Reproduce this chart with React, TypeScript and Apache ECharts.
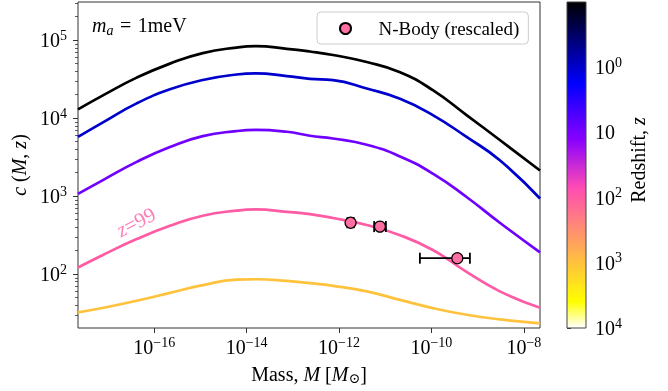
import React, { useEffect, useRef } from "react";
import * as echarts from "echarts";

// ---------- data (log10 values) ----------
const log10Mass = [-17.65, -17.1, -16.38, -15.66, -14.95, -14.22, -13.8, -13.13, -12.63, -12.13, -11.4, -10.68, -9.97, -9.24, -8.52, -7.65];
const redshifts = [0.1, 1, 9, 99, 999];
const log10C_z0 = [4.113, 4.296, 4.52, 4.7, 4.835, 4.906, 4.923, 4.89, 4.855, 4.81, 4.72, 4.59, 4.36, 4.04, 3.72, 3.33];
const log10C_z1 = [3.76, 3.95, 4.19, 4.37, 4.49, 4.56, 4.574, 4.54, 4.505, 4.488, 4.38, 4.25, 4.04, 3.76, 3.46, 2.97];
const log10C_z9 = [3.03, 3.21, 3.44, 3.63, 3.77, 3.835, 3.85, 3.826, 3.775, 3.74, 3.66, 3.51, 3.29, 2.99, 2.66, 2.28];
const log10C_z99 = [2.085, 2.25, 2.45, 2.62, 2.75, 2.815, 2.83, 2.8, 2.77, 2.72, 2.63, 2.5, 2.31, 2.03, 1.78, 1.57];
const log10C_z999 = [1.51, 1.57, 1.66, 1.76, 1.86, 1.93, 1.935, 1.914, 1.885, 1.85, 1.78, 1.67, 1.565, 1.48, 1.42, 1.37];
const curveValues = [log10C_z0, log10C_z1, log10C_z9, log10C_z99, log10C_z999];

const nbodyLog10Mass = [-11.75, -11.115, -9.44];
const nbodyLog10C = [2.66, 2.61, 2.205];
const nbodyLog10MassLow = [-11.82, -11.24, -10.25];
const nbodyLog10MassHigh = [-11.68, -10.985, -9.167];

const xTicks = [-16, -14, -12, -10, -8];
const yTicks = [2, 3, 4, 5];
const cbarTicks = [0, 1, 2, 3, 4];

// ---------- helpers ----------
const FONT = "'Liberation Serif', 'Times New Roman', 'DejaVu Serif', serif";
const clip = (v: number) => Math.max(0, Math.min(1, v));
function gnuplot2(t: number): string {
  const r = clip(t / 0.32 - 0.78125);
  const g = clip(2 * t - 0.84);
  const b = clip(t < 0.25 ? 4 * t : t < 0.42 ? 1 : t < 0.92 ? -2 * t + 1.84 : t / 0.08 - 11.5);
  return `rgb(${Math.round(r * 255)},${Math.round(g * 255)},${Math.round(b * 255)})`;
}
const zToT = (z: number) => (Math.log10(z) + 1) / 5;

const supRich = {
  b: { fontSize: 20, fontFamily: FONT, color: "#000", lineHeight: 24 },
  s: { fontSize: 14, fontFamily: FONT, color: "#000", lineHeight: 8, verticalAlign: "top" },
};
const powLabel = (v: number) => `{b|10}{s|${v < 0 ? "\u2212" : ""}${Math.abs(v)}}`;

export default function App() {
  const ref = useRef<HTMLDivElement>(null);
  useEffect(() => {
    if (!ref.current) return;
    const chart = echarts.init(ref.current, null, { renderer: "svg" });

    const minorTicks: number[] = [];
    for (let n = 1; n <= 5; n++) for (let k = 2; k <= 9; k++) {
      const v = Math.log10(k * Math.pow(10, n));
      if (v > 1.31 && v < 5.49) minorTicks.push(v);
    }
    const stops = [] as { offset: number; color: string }[];
    for (let i = 0; i <= 100; i++) stops.push({ offset: i / 100, color: gnuplot2(i / 100) });

    const lineSeries = curveValues.map((vals, idx) => ({
      type: "line",
      name: `z=${redshifts[idx]}`,
      xAxisIndex: 0,
      yAxisIndex: 0,
      data: log10Mass.map((m, i) => [m, vals[i]]),
      showSymbol: false,
      smooth: 0.5,
      lineStyle: { width: 2.7, color: gnuplot2(zToT(redshifts[idx])) },
      z: 2,
      silent: true,
    }));

    const pink = gnuplot2(zToT(99));
    const nameRich = {
      i: { fontFamily: FONT, fontSize: 20, fontStyle: "italic", color: "#000", lineHeight: 24 },
      u: { fontFamily: FONT, fontSize: 14, color: "#000", lineHeight: 10, verticalAlign: "bottom" },
    };

    chart.setOption({
      animation: false,
      grid: [
        { left: 78, right: 128, top: 2, bottom: 63, show: true, borderColor: "#333", borderWidth: 1, backgroundColor: "transparent" },
        { left: 567, width: 19, top: 2, height: 326, show: false },
      ],
      xAxis: [
        {
          type: "value", gridIndex: 0, min: -17.65, max: -7.65,
          splitLine: { show: false }, axisLine: { show: false },
          axisTick: { show: true, customValues: xTicks, length: 5, lineStyle: { color: "#333", width: 1 } },
          axisLabel: { customValues: xTicks, formatter: powLabel, rich: supRich, margin: 7 },
          name: "Mass, {i|M} [{i|M}{u|\u2299}]",
          nameLocation: "middle", nameGap: 27,
          nameTextStyle: { fontFamily: FONT, fontSize: 20, color: "#000", lineHeight: 24, rich: nameRich },
        },
        { type: "value", gridIndex: 1, min: 0, max: 1, show: false },
      ],
      yAxis: [
        {
          type: "value", gridIndex: 0, min: 1.31, max: 5.49,
          splitLine: { show: false }, axisLine: { show: false },
          axisTick: { show: true, customValues: yTicks, length: 5, lineStyle: { color: "#333", width: 1 } },
          axisLabel: { customValues: yTicks, formatter: powLabel, rich: supRich, margin: 11 },
          name: "{i|c} ({i|M}, {i|z})",
          nameLocation: "middle", nameGap: 44, nameRotate: 90,
          nameTextStyle: { fontFamily: FONT, fontSize: 20, color: "#000", rich: nameRich },
        },
        {
          type: "value", gridIndex: 0, min: 1.31, max: 5.49, position: "left",
          splitLine: { show: false }, axisLine: { show: false }, axisLabel: { show: false },
          axisTick: { show: true, customValues: minorTicks, length: 3, lineStyle: { color: "#333", width: 0.8 } },
        },
        {
          type: "value", gridIndex: 1, min: -1, max: 4, inverse: true, position: "right",
          splitLine: { show: false }, axisLine: { show: false },
          axisTick: { show: true, customValues: cbarTicks, length: 4, lineStyle: { color: "#333", width: 1 } },
          axisLabel: {
            customValues: cbarTicks, rich: supRich, margin: 9,
            formatter: (v: number) => (v === 1 ? "{b|10}" : powLabel(v)),
          },
          name: "Redshift, {i|z}",
          nameLocation: "middle", nameGap: 40, nameRotate: 90,
          nameTextStyle: { fontFamily: FONT, fontSize: 20, color: "#000", rich: nameRich, padding: [0, 0, 0, 10] },
        },
      ],
      legend: {
        data: ["N-Body (rescaled)"],
        left: 317, top: 12,
        itemWidth: 56, itemHeight: 11,
        padding: [7, 9, 6, 22],
        backgroundColor: "rgba(255,255,255,0.8)",
        borderColor: "#ccc", borderWidth: 1, borderRadius: 4,
        textStyle: { fontFamily: FONT, fontSize: 19, color: "#000" },
      },
      graphic: [
        {
          type: "text", left: 92, top: 12,
          style: {
            text: "{i|m}{s|a}{sp| }{n|=}{sp| }{n|1meV}",
            rich: {
              i: { fontFamily: FONT, fontSize: 20, fontStyle: "italic", fill: "#000", lineHeight: 24 },
              s: { fontFamily: FONT, fontSize: 14, fontStyle: "italic", fill: "#000", lineHeight: 12, verticalAlign: "bottom" },
              sp: { fontFamily: FONT, fontSize: 26, fill: "#000", lineHeight: 24 },
              n: { fontFamily: FONT, fontSize: 20, fill: "#000", lineHeight: 24 },
            },
          },
        },
        {
          type: "text", x: 136, y: 222, rotation: (27 * Math.PI) / 180,
          style: {
            text: "{i|z}{n|=99}",
            align: "center", verticalAlign: "middle",
            opacity: 0.8,
            rich: {
              i: { fontFamily: FONT, fontSize: 21, fontStyle: "italic", fill: pink },
              n: { fontFamily: FONT, fontSize: 21, fill: pink },
            },
          },
        },
      ],
      series: [
        ...lineSeries,
        {
          type: "custom",
          name: "errorbars",
          xAxisIndex: 0, yAxisIndex: 0,
          data: nbodyLog10Mass.map((_, i) => [nbodyLog10MassLow[i], nbodyLog10MassHigh[i], nbodyLog10C[i]]),
          renderItem: (params: any, api: any) => {
            const lo = api.coord([api.value(0), api.value(2)]);
            const hi = api.coord([api.value(1), api.value(2)]);
            const cap = 5.5;
            const style = { stroke: "#000", lineWidth: 1.8 };
            return {
              type: "group",
              children: [
                { type: "line", shape: { x1: lo[0], y1: lo[1], x2: hi[0], y2: hi[1] }, style },
                { type: "line", shape: { x1: lo[0], y1: lo[1] - cap, x2: lo[0], y2: lo[1] + cap }, style },
                { type: "line", shape: { x1: hi[0], y1: hi[1] - cap, x2: hi[0], y2: hi[1] + cap }, style },
              ],
            };
          },
          z: 3,
          silent: true,
        },
        {
          type: "scatter",
          name: "N-Body (rescaled)",
          xAxisIndex: 0, yAxisIndex: 0,
          data: nbodyLog10Mass.map((m, i) => [m, nbodyLog10C[i]]),
          symbol: "circle",
          symbolSize: 11,
          itemStyle: { color: "#ff6fa3", borderColor: "#000", borderWidth: 1.2, opacity: 1 },
          z: 4,
          silent: true,
        },
        {
          type: "custom",
          name: "colorbar",
          xAxisIndex: 1, yAxisIndex: 2,
          data: [[0, -1, 1, 4]],
          renderItem: (params: any, api: any) => {
            const p0 = api.coord([api.value(0), api.value(1)]);
            const p1 = api.coord([api.value(2), api.value(3)]);
            return {
              type: "rect",
              shape: { x: p0[0], y: p0[1], width: p1[0] - p0[0], height: p1[1] - p0[1] },
              style: { fill: new echarts.graphic.LinearGradient(0, 0, 0, 1, stops), stroke: "#444", lineWidth: 1 },
            };
          },
          silent: true,
        },
      ],
    });
    return () => chart.dispose();
  }, []);
  return <div ref={ref} style={{ position: "fixed", left: 0, top: 0, width: 668, height: 391 }} />;
}
